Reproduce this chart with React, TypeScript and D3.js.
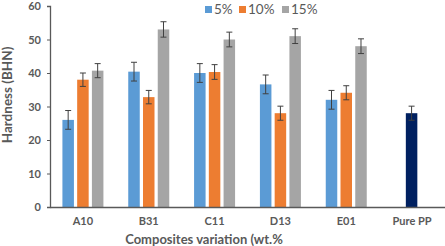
import React, { useEffect, useRef } from 'react'
import * as d3 from 'd3'

const categories = ['A10', 'B31', 'C11', 'D13', 'E01', 'Pure PP']
const seriesNames = ['5%', '10%', '15%']
const values5 = [26, 40.4, 40, 36.6, 32]
const values10 = [38, 32.8, 40.3, 28, 34.1]
const values15 = [40.7, 53, 50, 51, 48]
const errors5 = [2.8, 2.8, 2.8, 2.8, 2.8]
const errors10 = [2, 2, 2.2, 2.1, 2.1]
const errors15 = [2.1, 2.3, 2.2, 2.2, 2.2]
const purePP = 28
const purePPError = 2.1
const yTicks = [0, 10, 20, 30, 40, 50, 60]
const colors = ['#5B9BD5', '#ED7D31', '#A5A5A5']
const pureColor = '#002060'

const W = 445
const H = 246

export default function App() {
  const svgRef = useRef<SVGSVGElement>(null)

  useEffect(() => {
    if (!svgRef.current) return
    const svg = d3.select(svgRef.current)
    svg.selectAll('*').remove()

    const margin = { top: 6, right: 0, bottom: 39, left: 50 }
    const innerW = W - margin.left - margin.right
    const innerH = H - margin.top - margin.bottom
    const font = 'Lato, "Open Sans", sans-serif'
    const textColor = '#595959'

    const g = svg.append('g').attr('transform', `translate(${margin.left},${margin.top})`)

    const x = d3.scaleBand().domain(categories).range([0, innerW]).paddingInner(0).paddingOuter(0)
    const y = d3.scaleLinear().domain([0, 60]).range([innerH, 0])
    const inner = d3.scaleBand().domain(seriesNames).range([-20.5, 20.5]).paddingInner(0.22)

    const series = [
      { name: '5%', vals: values5, errs: errors5 },
      { name: '10%', vals: values10, errs: errors10 },
      { name: '15%', vals: values15, errs: errors15 }
    ]

    type Bar = { cx: number; w: number; v: number; e: number; color: string }
    const bars: Bar[] = []
    series.forEach((s, si) => {
      s.vals.forEach((v, i) => {
        const c = x(categories[i])! + x.bandwidth() / 2
        bars.push({ cx: c + inner(s.name)! + inner.bandwidth() / 2, w: inner.bandwidth(), v, e: s.errs[i], color: colors[si] })
      })
    })
    bars.push({ cx: x('Pure PP')! + x.bandwidth() / 2 - 0.5, w: inner.bandwidth(), v: purePP, e: purePPError, color: pureColor })

    g.selectAll('rect.bar')
      .data(bars)
      .enter()
      .append('rect')
      .attr('class', 'bar')
      .attr('x', d => d.cx - d.w / 2)
      .attr('width', d => d.w)
      .attr('y', d => y(d.v))
      .attr('height', d => innerH - y(d.v))
      .attr('fill', d => d.color)

    // error bars
    const eb = g.selectAll('g.err').data(bars).enter().append('g').attr('class', 'err')
      .attr('stroke', '#404040').attr('stroke-width', 1)
    eb.append('line')
      .attr('x1', d => d.cx).attr('x2', d => d.cx)
      .attr('y1', d => y(d.v + d.e)).attr('y2', d => y(d.v - d.e))
    eb.append('line')
      .attr('x1', d => d.cx - 3).attr('x2', d => d.cx + 3)
      .attr('y1', d => y(d.v + d.e)).attr('y2', d => y(d.v + d.e))
    eb.append('line')
      .attr('x1', d => d.cx - 3).attr('x2', d => d.cx + 3)
      .attr('y1', d => y(d.v - d.e)).attr('y2', d => y(d.v - d.e))

    // axes
    const yAxis = g.append('g')
      .call(d3.axisLeft(y).tickValues(yTicks).tickSize(3).tickPadding(6))
    yAxis.select('.domain').attr('stroke', '#595959').attr('stroke-width', 1.3)
    yAxis.selectAll('.tick line').attr('stroke', '#595959')
    yAxis.selectAll('.tick text')
      .attr('fill', textColor)
      .style('font-family', font)
      .style('font-size', '11px')
      .style('font-weight', 'bold')

    const xAxis = g.append('g')
      .attr('transform', `translate(0,${innerH})`)
      .call(d3.axisBottom(x).tickSize(0).tickPadding(10))
    xAxis.select('.domain').attr('stroke', '#595959').attr('stroke-width', 1.3)
    xAxis.selectAll('.tick text')
      .attr('fill', textColor)
      .style('font-family', font)
      .style('font-size', '11px')
      .style('font-weight', 'bold')

    // axis titles
    svg.append('text')
      .attr('transform', `translate(12,95) rotate(-90)`)
      .attr('text-anchor', 'middle')
      .attr('fill', textColor)
      .style('font-family', font)
      .style('font-size', '13.5px')
      .style('font-weight', 'bold')
      .text('Hardness (BHN)')

    svg.append('text')
      .attr('x', 204)
      .attr('y', 244)
      .attr('text-anchor', 'middle')
      .attr('fill', textColor)
      .style('font-family', font)
      .style('font-size', '13px')
      .style('font-weight', 'bold')
      .text('Composites variation (wt.%')

    // legend
    const legendX = [205, 239, 282]
    const lg = svg.selectAll('g.legend').data(seriesNames).enter().append('g')
      .attr('class', 'legend')
      .attr('transform', (_, i) => `translate(${legendX[i]},5)`)
    lg.append('rect').attr('width', 7).attr('height', 7).attr('y', 1).attr('fill', (_, i) => colors[i])
    lg.append('text')
      .attr('x', 9)
      .attr('y', 8.5)
      .attr('fill', textColor)
      .style('font-family', font)
      .style('font-size', '13.5px')
      .text(d => d)
  }, [])

  return (
    <div style={{ position: 'absolute', left: 0, top: 0 }}>
      <svg ref={svgRef} width={W} height={H} style={{ display: 'block', background: '#fff' }} />
    </div>
  )
}
